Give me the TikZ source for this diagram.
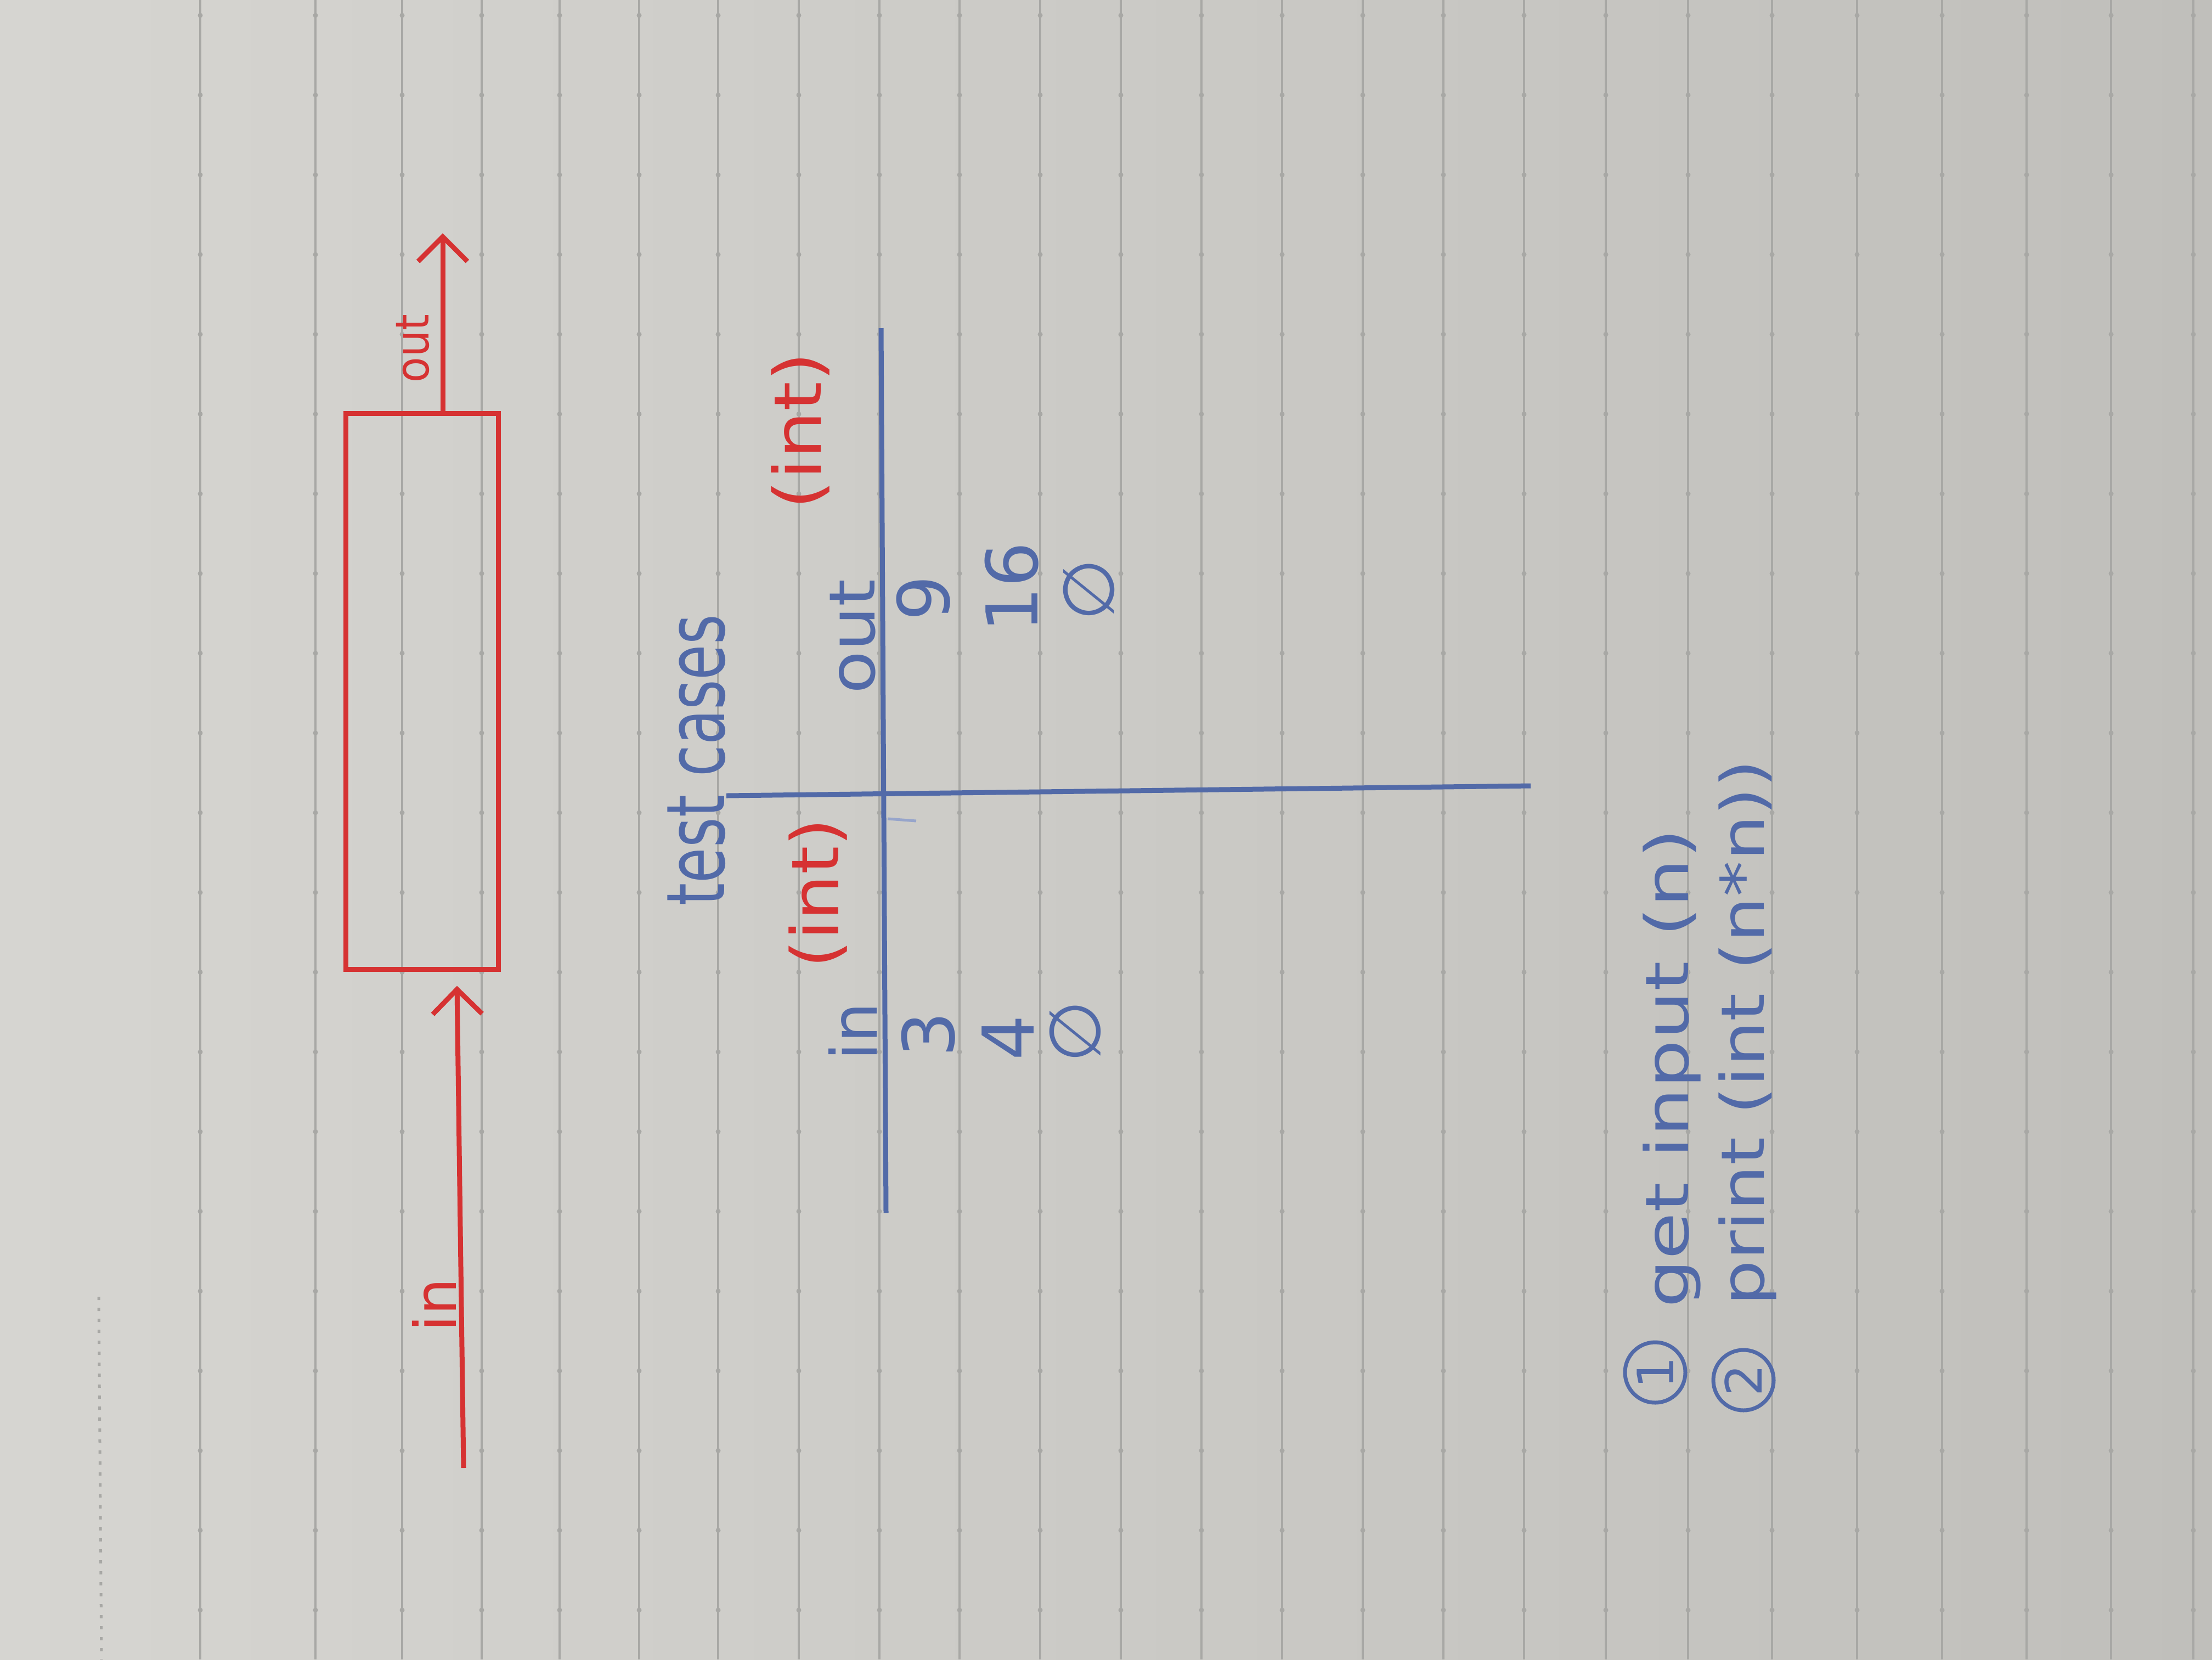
\documentclass[tikz,border=0pt]{standalone}
\usepackage{fontspec}
\setmainfont{DejaVu Sans}
\usetikzlibrary{arrows.meta}
\definecolor{inkred}{RGB}{214,50,50}
\definecolor{inkblue}{RGB}{82,106,168}
\definecolor{paperL}{RGB}{214,213,209}
\definecolor{paperR}{RGB}{192,191,187}
\definecolor{rule}{RGB}{168,168,165}
\newcommand{\penfont}[1]{\fontsize{#1}{#1}\selectfont}
\begin{document}
\begin{tikzpicture}[
    redpen/.style={draw=inkred, line width=0.09cm},
    bluepen/.style={draw=inkblue, line width=0.09cm},
    barb/.style={-{Straight Barb[length=0.45cm, width=0.9cm]}},
    word/.style={rotate=90, anchor=base, inner sep=0pt},
  ]
  % paper
  \shade[left color=paperL, right color=paperR] (0,0) rectangle (40.32,-30.24);
  \useasboundingbox (0,0) rectangle (40.32,-30.24);
  \foreach \x in {3.65,5.75,7.33,8.78,10.2,11.65,13.09,14.56,16.03,17.49,18.96,
                  20.43,21.9,23.37,24.84,26.31,27.78,29.27,30.77,32.3,33.85,35.4,36.94,38.48,39.98}{
    \draw[rule, line width=0.035cm] (\x,0) -- (\x,-30.24);
    \foreach \k in {0,...,20}
      \fill[rule] (\x,{-0.28-1.453*\k}) circle (0.045);
  }
  \draw[rule, line width=0.05cm, dash pattern=on 0.06cm off 0.14cm] (1.8,-23.63) -- (1.85,-30.24);

  % the box
  \node[redpen, minimum width=2.78cm, minimum height=10.13cm, inner sep=0pt] (box) at (7.69,-12.595) {};
  \coordinate (inStart) at (8.45,-26.75);
  \coordinate (outEnd) at (8.07,-4.25);
  \draw[redpen, barb] (inStart) -- ([xshift=0.64cm, yshift=-0.26cm]box.south);
  \draw[redpen, barb] ([xshift=0.38cm]box.north) -- (outEnd);
  \node[word, text=inkred, font=\penfont{30}] (inlbl) at (8.31,-23.78) {in};
  \node[word, text=inkred, font=\penfont{24}, xscale=0.9] (outlbl) at (7.81,-6.35) {out};

  % test cases table
  \node[word, text=inkblue, font=\penfont{42}, xscale=0.71] (title) at (13.2,-13.85) {test cases};
  \draw[bluepen] (16.06,-5.98) -- (16.15,-22.1);
  \draw[bluepen] (13.24,-14.5) -- (27.9,-14.32);
  \draw[inkblue!60, line width=0.05cm] (16.18,-14.92) -- (16.7,-14.96);
  \node[word, text=inkred, font=\penfont{34}, xscale=1.1] (inType) at (15.28,-16.28) {(int)};
  \node[word, text=inkred, font=\penfont{34}, xscale=1.15] (outType) at (14.96,-7.85) {(int)};
  \node[word, text=inkblue, font=\penfont{33}] (inHead) at (15.98,-18.8) {in};
  \node[word, text=inkblue, font=\penfont{33}, xscale=1.1] (outHead) at (15.94,-11.6) {out};
  \node[word, text=inkblue, font=\penfont{37}] (in1) at (17.39,-18.85) {3};
  \node[word, text=inkblue, font=\penfont{37}] (in2) at (18.84,-18.91) {4};
  \node[word, text=inkblue, font=\penfont{37}] (in3) at (20.05,-18.8) {∅};
  \node[word, text=inkblue, font=\penfont{37}] (out1) at (17.3,-10.9) {9};
  \node[word, text=inkblue, font=\penfont{37}] (out2) at (18.91,-10.7) {16};
  \node[word, text=inkblue, font=\penfont{37}] (out3) at (20.3,-10.75) {∅};

  % steps
  \node[draw=inkblue, line width=0.07cm, circle, minimum size=1.1cm, inner sep=0pt,
        rotate=90, text=inkblue, font=\penfont{26}] (one) at (30.17,-25.01) {1};
  \node[draw=inkblue, line width=0.07cm, circle, minimum size=1.1cm, inner sep=0pt,
        rotate=90, text=inkblue, font=\penfont{26}] (two) at (31.78,-25.15) {2};
  \node[word, text=inkblue, font=\penfont{31}, xscale=1.28] (step1) at (30.77,-19.47) {get input (n)};
  \node[word, text=inkblue, font=\penfont{31}, xscale=1.2] (step2) at (32.15,-18.82) {print (int (n*n))};
\end{tikzpicture}
\end{document}
